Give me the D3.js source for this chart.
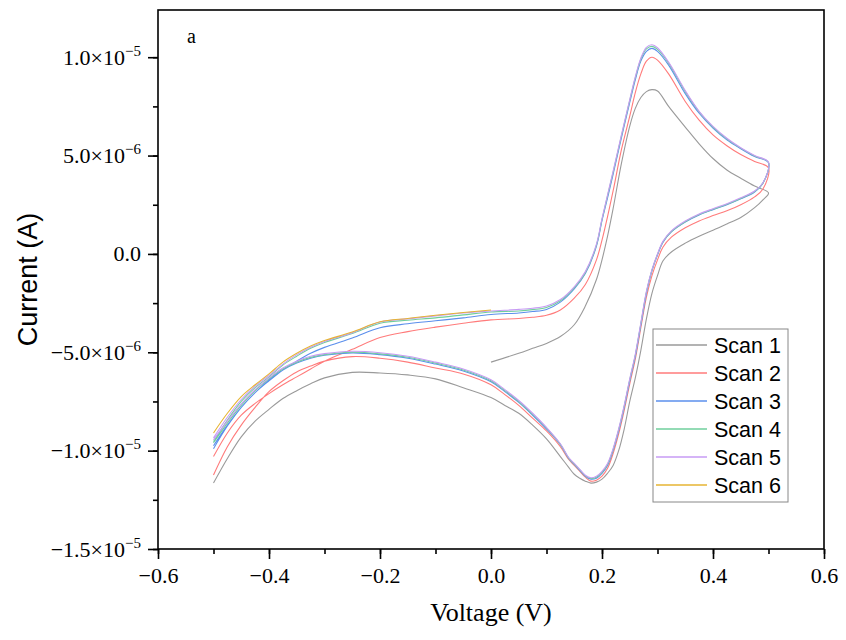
<!DOCTYPE html>
<html>
<head>
<meta charset="utf-8">
<script src="https://cdn.jsdelivr.net/npm/d3@7"></script>
<style>
  body { margin: 0; background: #fff; }
</style>
</head>
<body>
<div id="chart"></div>
<script>
// sweep voltages (V)
var fwdV = [-0.5, -0.475, -0.45, -0.425, -0.4, -0.375, -0.35, -0.325, -0.3, -0.25,
  -0.2, -0.15, -0.1, -0.05, 0, 0.05, 0.075, 0.1, 0.125, 0.15,
  0.17, 0.19, 0.2, 0.21, 0.22, 0.235, 0.25, 0.26, 0.27, 0.28,
  0.29, 0.3, 0.32, 0.35, 0.375, 0.4, 0.425, 0.45, 0.475, 0.5];
var revV = [0.49, 0.475, 0.45, 0.425, 0.4, 0.375, 0.35, 0.325, 0.31,
  0.3, 0.29, 0.28, 0.27, 0.26, 0.25, 0.24, 0.23, 0.22, 0.21,
  0.2, 0.19, 0.18, 0.17, 0.16, 0.15, 0.14, 0.125, 0.1, 0.075,
  0.05, 0.025, 0, -0.05, -0.1, -0.15, -0.2, -0.25, -0.3, -0.325,
  -0.35, -0.375, -0.4, -0.425, -0.45, -0.475, -0.5];

// currents (µA), forward sweep (toward +0.5 V)
var scan1Fwd = [null, null, null, null, null, null, null, null, null, null,
  null, null, null, null, -5.5, -5.05, -4.8, -4.55, -4.2, -3.6,
  -2.65, -1.3, -0.3, 0.9, 2.3, 4.6, 6.5, 7.4, 7.95, 8.25,
  8.35, 8.28, 7.5, 6.45, 5.6, 4.85, 4.27, 3.85, 3.45, 3.1];
var scan2Fwd = [-10.3, -9.1, -8.2, -7.6, -7.1, -6.65, -6.25, -5.85, -5.45, -4.85,
  -4.25, -3.95, -3.72, -3.52, -3.35, -3.28, -3.22, -3.12, -2.85, -2.25,
  -1.55, -0.3, 0.7, 1.9, 3.2, 5.3, 7.0, 8.2, 9.15, 9.8,
  10.0, 9.85, 9.15, 7.75, 6.8, 6.05, 5.5, 5.05, 4.7, 4.37];
var scan3Fwd = [-9.9, -8.75, -7.8, -7.05, -6.45, -5.9, -5.45, -5.05, -4.75, -4.27,
  -3.75, -3.55, -3.4, -3.25, -3.08, -3.0, -2.93, -2.82, -2.45, -1.78,
  -1.0, 0.4, 1.7, 2.85, 4.05, 5.9, 7.7, 8.85, 9.8, 10.3,
  10.45, 10.3, 9.6, 8.15, 7.15, 6.4, 5.8, 5.35, 4.95, 4.63];
var scan4Fwd = [-9.55, -8.45, -7.5, -6.8, -6.25, -5.65, -5.2, -4.8, -4.5, -4.05,
  -3.52, -3.37, -3.25, -3.1, -2.95, -2.9, -2.83, -2.72, -2.38, -1.72,
  -0.95, 0.45, 1.75, 2.95, 4.15, 6.0, 7.8, 8.95, 9.9, 10.42,
  10.55, 10.4, 9.7, 8.25, 7.22, 6.45, 5.85, 5.38, 4.98, 4.65];
var scan5Fwd = [-9.35, -8.3, -7.4, -6.72, -6.18, -5.6, -5.12, -4.74, -4.45, -4.0,
  -3.46, -3.3, -3.15, -3.0, -2.9, -2.82, -2.76, -2.65, -2.32, -1.67,
  -0.9, 0.5, 1.8, 3.0, 4.2, 6.05, 7.85, 9.0, 9.95, 10.5,
  10.63, 10.48, 9.75, 8.3, 7.25, 6.48, 5.88, 5.4, 5.0, 4.66];
var scan6Fwd = [-9.1, -8.1, -7.25, -6.65, -6.1, -5.5, -5.05, -4.68, -4.4, -3.97,
  -3.45, -3.28, -3.12, -2.98, -2.85, null, null, null, null, null,
  null, null, null, null, null, null, null, null, null, null,
  null, null, null, null, null, null, null, null, null, null];

// currents (µA), reverse sweep (back toward -0.5 V)
var scan1Rev = [2.75, 2.35, 1.85, 1.52, 1.2, 0.9, 0.55, 0.1, -0.35,
  -1.1, -2.0, -3.3, -4.9, -6.3, -7.5, -8.9, -10.0, -10.75, -11.15,
  -11.45, -11.6, -11.65, -11.55, -11.4, -11.2, -10.85, -10.3, -9.4, -8.7,
  -8.1, -7.7, -7.3, -6.8, -6.35, -6.15, -6.05, -6.02, -6.3, -6.6,
  -6.95, -7.35, -7.9, -8.5, -9.3, -10.4, -11.65];
var scan2Rev = [3.3, 2.9, 2.5, 2.2, 1.95, 1.68, 1.33, 0.85, 0.35,
  -0.3, -1.1, -2.2, -3.75, -5.35, -6.6, -7.95, -9.15, -10.15, -10.9,
  -11.3, -11.5, -11.55, -11.35, -11.05, -10.75, -10.45, -9.8, -9.0, -8.35,
  -7.7, -7.15, -6.65, -6.1, -5.8, -5.5, -5.3, -5.22, -5.45, -5.7,
  -6.0, -6.45, -7.0, -7.8, -8.7, -9.8, -11.24];
var scan3Rev = [3.6, 3.15, 2.8, 2.5, 2.25, 1.98, 1.62, 1.12, 0.6,
  -0.05, -0.85, -2.0, -3.6, -5.2, -6.45, -7.8, -9.0, -10.0, -10.75,
  -11.15, -11.4, -11.45, -11.3, -11.0, -10.7, -10.4, -9.7, -8.9, -8.2,
  -7.55, -7.0, -6.5, -5.95, -5.6, -5.3, -5.12, -5.03, -5.15, -5.3,
  -5.55, -5.9, -6.4, -7.05, -7.8, -8.7, -9.75];
var scan4Rev = [3.6, 3.17, 2.82, 2.52, 2.27, 2.0, 1.64, 1.14, 0.62,
  -0.03, -0.83, -1.95, -3.55, -5.15, -6.4, -7.75, -8.95, -9.95, -10.7,
  -11.1, -11.35, -11.42, -11.28, -10.98, -10.68, -10.38, -9.68, -8.85, -8.15,
  -7.5, -6.95, -6.45, -5.9, -5.55, -5.25, -5.08, -5.0, -5.12, -5.26,
  -5.5, -5.85, -6.35, -6.95, -7.7, -8.6, -9.6];
var scan5Rev = [3.62, 3.2, 2.85, 2.55, 2.3, 2.03, 1.67, 1.17, 0.65,
  0.0, -0.8, -1.9, -3.5, -5.1, -6.35, -7.7, -8.9, -9.9, -10.65,
  -11.05, -11.3, -11.38, -11.25, -10.95, -10.65, -10.35, -9.65, -8.82, -8.1,
  -7.45, -6.9, -6.4, -5.85, -5.5, -5.2, -5.02, -4.95, -5.07, -5.2,
  -5.45, -5.8, -6.3, -6.9, -7.62, -8.5, -9.45];
var scan6Rev = [];

var scanNames = ["Scan 1", "Scan 2", "Scan 3", "Scan 4", "Scan 5", "Scan 6"];
var scanColors = ["#9a9a9a", "#ff7b7b", "#5b8fec", "#6fcf9c", "#c79bf4", "#e6b533"];
var fwdSeries = [scan1Fwd, scan2Fwd, scan3Fwd, scan4Fwd, scan5Fwd, scan6Fwd];
var revSeries = [scan1Rev, scan2Rev, scan3Rev, scan4Rev, scan5Rev, scan6Rev];

var xTicks = [-0.6, -0.4, -0.2, 0, 0.2, 0.4, 0.6];
var xTickLabels = ["\u22120.6", "\u22120.4", "\u22120.2", "0.0", "0.2", "0.4", "0.6"];
var yTicks = [-1.5e-5, -1e-5, -5e-6, 0, 5e-6, 1e-5];
var yTickMant = ["\u22121.5\u00d710", "\u22121.0\u00d710", "\u22125.0\u00d710", "0.0", "5.0\u00d710", "1.0\u00d710"];
var yTickExp = ["\u22125", "\u22125", "\u22126", "", "\u22126", "\u22125"];

var serif = "Liberation Serif, Times New Roman, serif";
var sans = "Liberation Sans, Arial, sans-serif";

var svgWidth = 846;
var svgHeight = 640;
var margin = { top: 10, right: 22, bottom: 91, left: 158 };
var width = svgWidth - margin.left - margin.right;
var height = svgHeight - margin.top - margin.bottom;

var svg = d3.select("#chart")
  .append("svg")
  .attr("width", svgWidth)
  .attr("height", svgHeight);

var chartGroup = svg.append("g")
  .attr("transform", `translate(${margin.left}, ${margin.top})`);

var xScale = d3.scaleLinear().domain([-0.6, 0.6]).range([0, width]);
var yScale = d3.scaleLinear().domain([-1.5e-5, 1.24e-5]).range([height, 0]);

// minor ticks
chartGroup.append("g")
  .attr("transform", `translate(0, ${height})`)
  .call(d3.axisBottom(xScale).tickValues(d3.range(-6, 7).map(d => d / 10)).tickSize(5).tickSizeOuter(0).tickFormat(""))
  .call(g => g.select(".domain").remove())
  .call(g => g.selectAll("line").attr("stroke", "#000").attr("stroke-width", 1.6));
chartGroup.append("g")
  .call(d3.axisLeft(yScale).tickValues(d3.range(-6, 5).map(d => d * 2.5e-6)).tickSize(5).tickSizeOuter(0).tickFormat(""))
  .call(g => g.select(".domain").remove())
  .call(g => g.selectAll("line").attr("stroke", "#000").attr("stroke-width", 1.6));

// major ticks
var xAxis = chartGroup.append("g")
  .attr("transform", `translate(0, ${height})`)
  .call(d3.axisBottom(xScale).tickValues(xTicks).tickSize(10).tickSizeOuter(0).tickPadding(8)
    .tickFormat((d, i) => xTickLabels[i]))
  .attr("font-family", serif)
  .attr("font-size", 22);
xAxis.selectAll("line").attr("stroke", "#000").attr("stroke-width", 1.6);
xAxis.selectAll("text").attr("fill", "#000");
xAxis.select(".domain").remove();

var yAxis = chartGroup.append("g")
  .call(d3.axisLeft(yScale).tickValues(yTicks).tickSize(10).tickSizeOuter(0).tickPadding(7)
    .tickFormat((d, i) => yTickMant[i]))
  .attr("font-family", serif)
  .attr("font-size", 22);
yAxis.selectAll("line").attr("stroke", "#000").attr("stroke-width", 1.6);
yAxis.select(".domain").remove();
yAxis.selectAll(".tick text").attr("fill", "#000").each(function(d, i) {
  var t = d3.select(this);
  t.text(null);
  t.append("tspan").text(yTickMant[i]);
  if (yTickExp[i]) {
    t.append("tspan").attr("dy", -9).attr("font-size", "15px").text(yTickExp[i]);
  }
});

// curves
var line = d3.line()
  .defined(d => d[1] != null)
  .x(d => xScale(d[0]))
  .y(d => yScale(d[1] * 1e-6))
  .curve(d3.curveCatmullRom.alpha(0.5));

fwdSeries.forEach((vals, k) => {
  var pts = fwdV.map((v, i) => [v, vals[i]]).filter(p => p[1] != null)
    .concat(revSeries[k].map((c, i) => [revV[i], c]));
  chartGroup.append("path")
    .datum(pts)
    .attr("fill", "none")
    .attr("stroke", scanColors[k])
    .attr("stroke-width", 1.1)
    .attr("d", line);
});

// frame
chartGroup.append("rect")
  .attr("width", width)
  .attr("height", height)
  .attr("fill", "none")
  .attr("stroke", "#000")
  .attr("stroke-width", 1.6);

// panel letter
chartGroup.append("text")
  .attr("x", 29)
  .attr("y", 33)
  .attr("font-family", serif)
  .attr("font-size", "20px")
  .text("a");

// axis titles
svg.append("text")
  .attr("x", margin.left + width / 2)
  .attr("y", 621)
  .attr("text-anchor", "middle")
  .attr("font-family", serif)
  .attr("font-size", "26px")
  .text("Voltage (V)");

svg.append("text")
  .attr("transform", `translate(37, ${margin.top + height / 2}) rotate(-90)`)
  .attr("text-anchor", "middle")
  .attr("font-family", sans)
  .attr("font-size", "27px")
  .text("Current (A)");

// legend
var legend = svg.append("g").attr("transform", "translate(653, 329)");
legend.append("rect")
  .attr("width", 135)
  .attr("height", 173)
  .attr("fill", "#fff")
  .attr("stroke", "#888")
  .attr("stroke-width", 1);
scanNames.forEach((name, k) => {
  var yy = 16 + k * 28;
  legend.append("line")
    .attr("x1", 3).attr("x2", 54)
    .attr("y1", yy).attr("y2", yy)
    .attr("stroke", scanColors[k])
    .attr("stroke-width", 1.4);
  legend.append("text")
    .attr("x", 61)
    .attr("y", yy + 8)
    .attr("font-family", sans)
    .attr("font-size", "21.5px")
    .text(name);
});
</script>
</body>
</html>
